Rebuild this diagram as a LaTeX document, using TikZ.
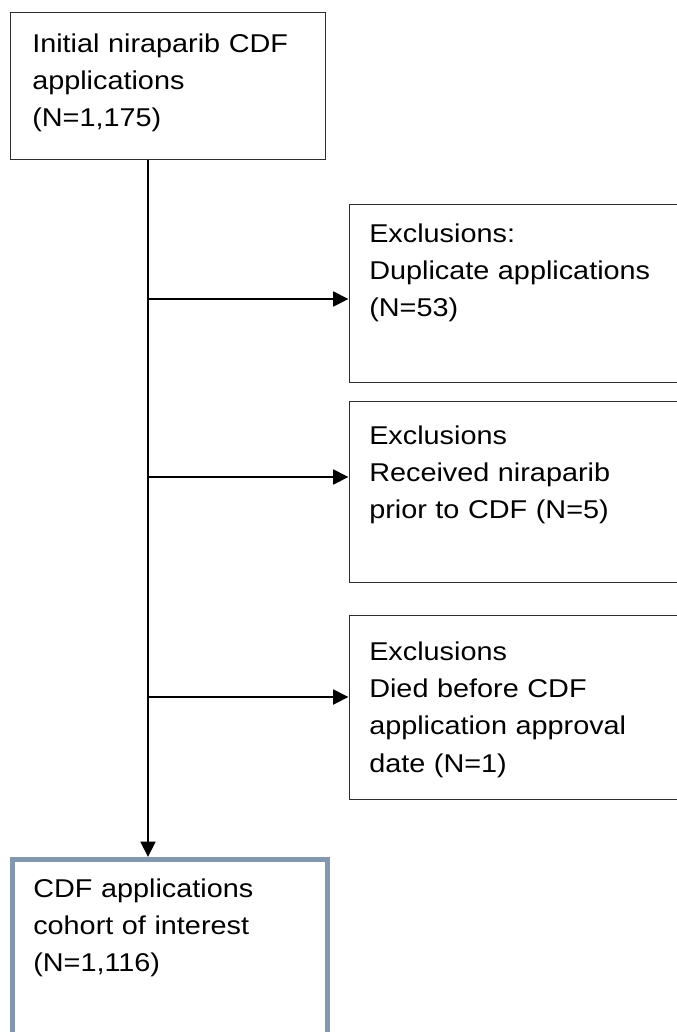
\documentclass[tikz,border=0pt]{standalone}
\usepackage{fontspec}
\setmainfont[FakeStretch=1.12]{Liberation Sans}
\usetikzlibrary{arrows.meta}
\definecolor{cohortblue}{RGB}{132,151,176}
\definecolor{boxline}{RGB}{45,45,45}
\begin{document}
\begin{tikzpicture}[x=0.75pt,y=-0.75pt,
  plainbox/.style={draw=boxline, line width=1.05pt, rectangle, inner sep=0pt, anchor=north west},
  cohortbox/.style={draw=cohortblue, line width=3.75pt, rectangle, inner sep=0pt, anchor=north west},
  boxtext/.style={anchor=base west, inner sep=0pt, text width=330pt, align=left, font=\fontsize{19.3}{28}\selectfont},
  flow/.style={line width=2.1pt, draw=black, -{Triangle[length=11.5pt,width=11pt]}}]
\useasboundingbox (0,0) rectangle (677,1032);
\clip (0,0) rectangle (677,1032);
% boxes
\node[plainbox, minimum width=236.25pt, minimum height=110.25pt] (initial) at (10,12) {};
\node[plainbox, minimum width=255pt, minimum height=133.5pt] (ex1) at (348.5,204) {};
\node[plainbox, minimum width=255pt, minimum height=135.75pt] (ex2) at (348.5,401) {};
\node[plainbox, minimum width=255pt, minimum height=138pt] (ex3) at (348.5,615) {};
\node[cohortbox, minimum width=236.25pt, minimum height=150pt] (cohort) at (10,857) {};
% texts
\node[boxtext] (tinitial) at (32,52) {Initial niraparib CDF\\applications\\(N=1,175)};
\node[boxtext] (tex1) at (369,242) {Exclusions:\\Duplicate applications\\(N=53)};
\node[boxtext] (tex2) at (369,444) {Exclusions\\Received niraparib\\prior to CDF (N=5)};
\node[boxtext] (tex3) at (369,660) {Exclusions\\Died before CDF\\application approval\\date (N=1)};
\node[boxtext] (tcohort) at (33,897) {CDF applications\\cohort of interest\\(N=1,116)};
% connectors
\coordinate (tx) at (148,0);
\coordinate (b1) at (148,299);
\coordinate (b2) at (148,477);
\coordinate (b3) at (148,697);
\draw[flow] (initial.south -| tx) -- (cohort.north -| tx);
\draw[flow] (b1) -- (ex1.west |- b1);
\draw[flow] (b2) -- (ex2.west |- b2);
\draw[flow] (b3) -- (ex3.west |- b3);
\end{tikzpicture}
\end{document}
